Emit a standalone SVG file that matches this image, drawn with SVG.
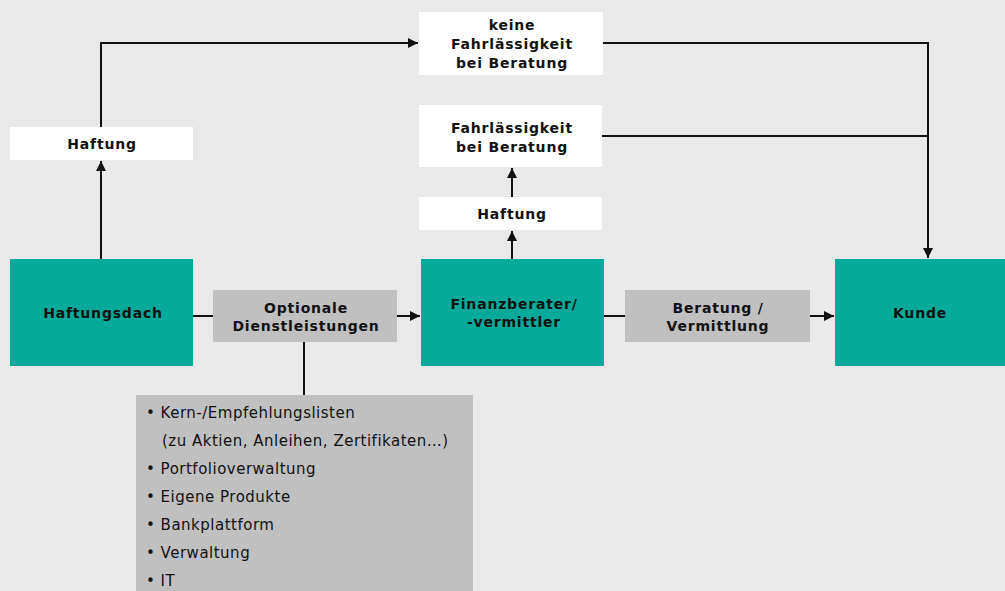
<svg xmlns="http://www.w3.org/2000/svg" width="1005" height="591" viewBox="0 0 1005 591">
<style>
.teal{fill:#07a99a}
.gray{fill:#c0c0c0}
.white{fill:#ffffff}
.b{font-family:"DejaVu Sans",Verdana,sans-serif;font-weight:bold;font-size:14px;letter-spacing:0.8px;fill:#111;text-anchor:middle}
.l{font-family:"DejaVu Sans",Verdana,sans-serif;font-size:15px;letter-spacing:0.5px;fill:#111}
.c{stroke:#111;stroke-width:2;fill:none}
</style>
<defs>
<marker id="ah" viewBox="0 0 10 10" refX="10" refY="5" markerWidth="5" markerHeight="5" orient="auto" markerUnits="strokeWidth">
<path d="M0,0 L10,5 L0,10 z" fill="#111"/>
</marker>
</defs>
<rect width="1005" height="591" fill="#e9e9e9"/>
<g id="connectors">
<path class="c" d="M101,259 V161" marker-end="url(#ah)"/>
<path class="c" d="M101,127 V43 H418" marker-end="url(#ah)"/>
<path class="c" d="M603,43 H928 V258" marker-end="url(#ah)"/>
<path class="c" d="M602,136 H928"/>
<path class="c" d="M512,259 V231" marker-end="url(#ah)"/>
<path class="c" d="M512,197 V168" marker-end="url(#ah)"/>
<path class="c" d="M193,316 H213"/>
<path class="c" d="M397,316 H420" marker-end="url(#ah)"/>
<path class="c" d="M604,316 H625"/>
<path class="c" d="M810,316 H834" marker-end="url(#ah)"/>
<path class="c" d="M304,342 V395"/>
</g>
<g id="haftung-left">
<rect class="white" x="10" y="127" width="183" height="33"/>
<text class="b" x="102" y="149">Haftung</text>
</g>
<g id="keine-fahrlaessigkeit">
<rect class="white" x="419" y="12" width="184" height="63"/>
<text class="b" x="512" y="30">keine</text>
<text class="b" x="512" y="49">Fahrlässigkeit</text>
<text class="b" x="512" y="68">bei Beratung</text>
</g>
<g id="fahrlaessigkeit">
<rect class="white" x="419" y="105" width="183" height="62"/>
<text class="b" x="512" y="133">Fahrlässigkeit</text>
<text class="b" x="512" y="152">bei Beratung</text>
</g>
<g id="haftung-mid">
<rect class="white" x="419" y="197" width="183" height="33"/>
<text class="b" x="512" y="219">Haftung</text>
</g>
<g id="haftungsdach">
<rect class="teal" x="10" y="259" width="183" height="107"/>
<text class="b" x="103" y="318">Haftungsdach</text>
</g>
<g id="optionale">
<rect class="gray" x="213" y="290" width="184" height="52"/>
<text class="b" x="306" y="313">Optionale</text>
<text class="b" x="306" y="331">Dienstleistungen</text>
</g>
<g id="finanzberater">
<rect class="teal" x="421" y="259" width="183" height="107"/>
<text class="b" x="514" y="309">Finanzberater/</text>
<text class="b" x="514" y="327">-vermittler</text>
</g>
<g id="beratung">
<rect class="gray" x="625" y="290" width="185" height="52"/>
<text class="b" x="718" y="313">Beratung /</text>
<text class="b" x="718" y="331">Vermittlung</text>
</g>
<g id="kunde">
<rect class="teal" x="835" y="259" width="170" height="107"/>
<text class="b" x="920" y="318">Kunde</text>
</g>
<g id="liste">
<rect class="gray" x="136" y="395" width="337" height="196"/>
<text class="l" x="146" y="418">• Kern-/Empfehlungslisten</text>
<text class="l" x="162" y="446">(zu Aktien, Anleihen, Zertifikaten…)</text>
<text class="l" x="146" y="474">• Portfolioverwaltung</text>
<text class="l" x="146" y="502">• Eigene Produkte</text>
<text class="l" x="146" y="530">• Bankplattform</text>
<text class="l" x="146" y="558">• Verwaltung</text>
<text class="l" x="146" y="586">• IT</text>
</g>
</svg>
